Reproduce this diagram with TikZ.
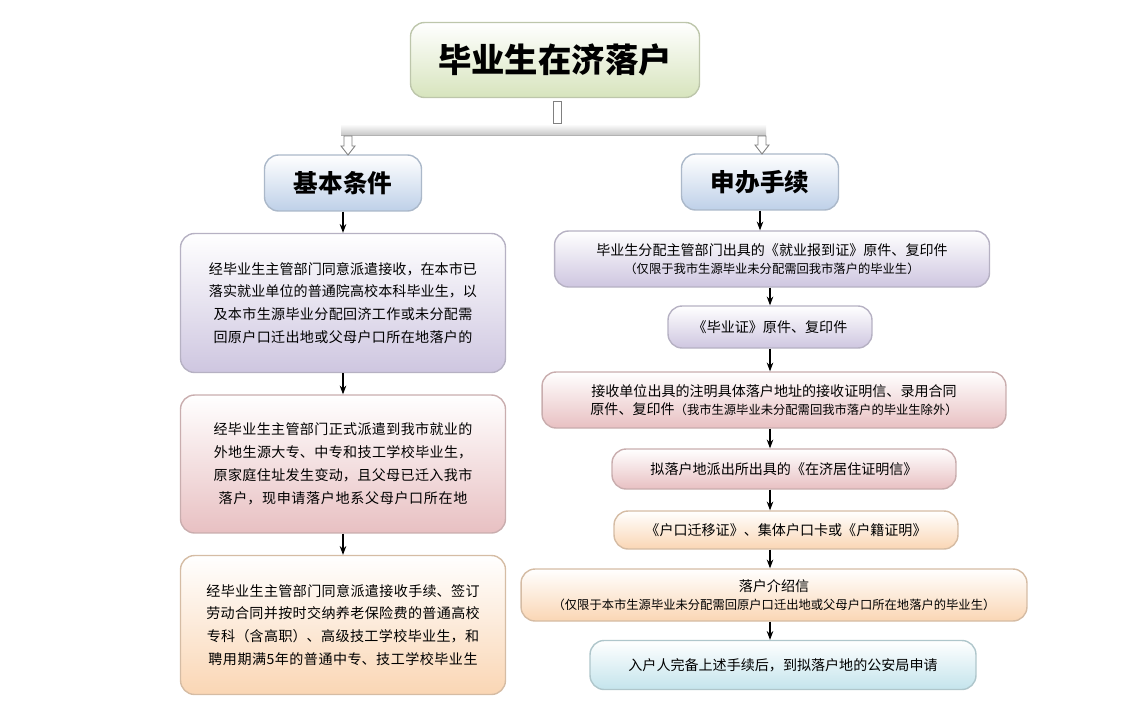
\documentclass[tikz,border=0pt]{standalone}
\usepackage{fontspec}
\setmainfont{Noto Sans CJK SC}
\XeTeXlinebreaklocale "zh"
\XeTeXlinebreakskip=0pt plus 1pt
\usetikzlibrary{positioning,arrows.meta}
\definecolor{leaf}{RGB}{215,228,189}
\definecolor{sky}{RGB}{190,208,232}
\definecolor{lilac}{RGB}{206,198,224}
\definecolor{rose}{RGB}{232,192,194}
\definecolor{peach}{RGB}{250,214,180}
\definecolor{aqua}{RGB}{196,228,236}
\tikzset{
  box/.style={draw=#1!70!gray, top color=white, bottom color=#1, rounded corners=8pt,
    line width=0.8pt, align=center, font=\fontsize{8}{13}\selectfont},
  flow/.style={-{Stealth[length=5pt]}, line width=0.6pt},
  hollow/.style={draw=gray, fill=white, line width=0.5pt},
}
\begin{document}
\begin{tikzpicture}[x=0.02cm,y=-0.02cm]
\useasboundingbox (0,0) rectangle (1122,717);
% top of the chart
\node[box=leaf, minimum width=5.78cm, minimum height=1.5cm, font=\fontsize{19}{22}\selectfont\bfseries] (title) at (555,60) {毕业生在济落户};
\node[box=sky, minimum width=3.14cm, minimum height=1.12cm, font=\fontsize{14}{16}\selectfont\bfseries] (basic) at (343,183) {基本条件};
\node[box=sky, minimum width=3.14cm, minimum height=1.12cm, font=\fontsize{14}{16}\selectfont\bfseries] (apply) at (760,182) {申办手续};
% split connector
\fill[gray!60] (341,124) rectangle (766,136);
\shade[top color=white, bottom color=gray!40] (341,124) rectangle (766,134);
\draw[hollow] (553,101) rectangle (561,123);
\draw[hollow] (344,136) -- (352,136) -- (352,146) -- (355,146) -- (348,155) -- (341,146) -- (344,146) -- cycle;
\draw[hollow] (758,136) -- (766,136) -- (766,145) -- (769,145) -- (762,154) -- (755,145) -- (758,145) -- cycle;
% left column
\node[box=lilac, minimum width=6.5cm, minimum height=2.78cm, text width=5.4cm] (c1) at (343,303)
  {经毕业生主管部门同意派遣接收，在本市已落实就业单位的普通院高校本科毕业生，以及本市生源毕业分配回济工作或未分配需回原户口迁出地或父母户口所在地落户的};
\node[box=rose, minimum width=6.5cm, minimum height=2.76cm, text width=5.4cm] (c2) at (343,464)
  {经毕业生主管部门正式派遣到我市就业的外地生源大专、中专和技工学校毕业生，原家庭住址发生变动，且父母已迁入我市落户，现申请落户地系父母户口所在地};
\node[box=peach, minimum width=6.5cm, minimum height=2.78cm, text width=5.7cm] (c3) at (343,625)
  {经毕业生主管部门同意派遣接收手续、签订劳动合同并按时交纳养老保险费的普通高校专科（含高职）、高级技工学校毕业生，和聘用期满5年的普通中专、技工学校毕业生};
% right column
\node[box=lilac, minimum width=8.7cm, minimum height=1.12cm] (s1) at (772,259)
  {毕业生分配主管部门出具的《就业报到证》原件、复印件\\[-3pt]{\fontsize{7}{10}\selectfont（仅限于我市生源毕业未分配需回我市落户的毕业生）}};
\node[box=lilac, minimum width=4.08cm, minimum height=0.84cm] (s2) at (770,327) {《毕业证》原件、复印件};
\node[box=rose, minimum width=9.28cm, minimum height=1.12cm] (s3) at (774,400)
  {接收单位出具的注明具体落户地址的接收证明信、录用合同\\[-3pt]原件、复印件{\fontsize{7}{10}\selectfont（我市生源毕业未分配需回我市落户的毕业生除外）}};
\node[box=rose, minimum width=6.88cm, minimum height=0.8cm] (s4) at (784,469) {拟落户地派出所出具的《在济居住证明信》};
\node[box=peach, minimum width=6.88cm, minimum height=0.76cm] (s5) at (786,530) {《户口迁移证》、集体户口卡或《户籍证明》};
\node[box=peach, minimum width=10.12cm, minimum height=1.04cm] (s6) at (774,595)
  {落户介绍信\\[-3pt]{\fontsize{7}{10}\selectfont（仅限于本市生源毕业未分配需回原户口迁出地或父母户口所在地落户的毕业生）}};
\node[box=aqua, minimum width=7.72cm, minimum height=0.98cm] (s7) at (783,665) {入户人完备上述手续后，到拟落户地的公安局申请};
% arrows
\coordinate (rx) at (770,0);
\draw[flow] (basic.south -| c1.north) -- (c1.north);
\draw[flow] (c1) -- (c2);
\draw[flow] (c2) -- (c3);
\draw[flow] (apply.south) -- (apply.south |- s1.north);
\foreach \a/\b in {s1/s2,s2/s3,s3/s4,s4/s5,s5/s6,s6/s7}
  \draw[flow] (\a.south -| rx) -- (\b.north -| rx);
\end{tikzpicture}
\end{document}
